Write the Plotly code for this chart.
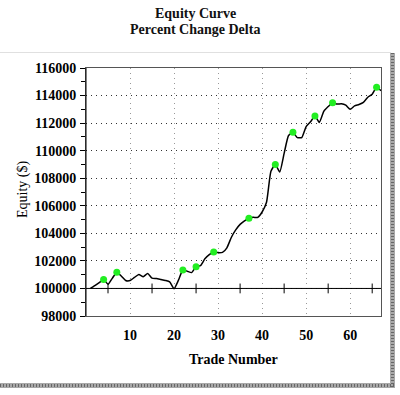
import plotly.graph_objects as go

trades = list(range(1, 68))
equity = [
    100000, 100200, 100420, 100650, 100300, 100750, 101180, 100900, 100580, 100570,
    100800, 101020, 100850, 101090, 100750, 100720, 100650, 100580, 100480, 99980,
    100600, 101340, 101250, 101150, 101580, 101650, 102150, 102450, 102640, 102600,
    102620, 102950, 103700, 104250, 104650, 104900, 105100, 105160, 105160, 105550,
    106250, 108500, 109000, 108450, 109800, 111100, 111330, 110950, 110950, 111750,
    112100, 112520, 112050, 112850, 113200, 113480, 113380, 113400, 113300, 113000,
    113250, 113350, 113500, 113880, 114100, 114600, 114350,
]
peak_trades = [4, 7, 22, 25, 29, 37, 43, 47, 52, 56, 66]
x_ticks = [10, 20, 30, 40, 50, 60]
x_minor_ticks = [5, 15, 25, 35, 45, 55, 65]
y_ticks = list(range(98000, 116001, 2000))
base_equity = 100000

peak_vals = [equity[trades.index(t)] for t in peak_trades]

W, H = 400, 395
L, R, T, B = 86, 19, 68, 79
PW, PH = W - L - R, H - T - B


def px(xp):
    return (xp - L) / PW


def py(yp):
    return (H - B - yp) / PH


serif = "Liberation Serif, Times New Roman, serif"

fig = go.Figure()

# baseline at starting equity
fig.add_trace(go.Scatter(
    x=[0, 67], y=[base_equity, base_equity], mode="lines",
    line=dict(color="black", width=1), hoverinfo="skip", showlegend=False))
fig.add_trace(go.Scatter(
    x=x_minor_ticks, y=[base_equity] * len(x_minor_ticks), mode="markers",
    marker=dict(symbol="line-ns", size=7, line=dict(color="black", width=1)),
    hoverinfo="skip", showlegend=False))

fig.add_trace(go.Scatter(
    x=trades, y=equity, mode="lines",
    line=dict(color="black", width=1.5, shape="spline", smoothing=0.5),
    showlegend=False))
fig.add_trace(go.Scatter(
    x=peak_trades, y=peak_vals, mode="markers",
    marker=dict(color="#22ee22", size=7, line=dict(width=0)),
    showlegend=False))

border_shapes = []
# light top rule of the outer frame
border_shapes.append(dict(type="line", xref="paper", yref="paper", x0=px(0), x1=px(391),
                          y0=py(52.5), y1=py(52.5), line=dict(color="#e0e0e0", width=1)))
# checkered right and bottom border: grey base with dark dotted overlay
for (x0, x1, y0, y1) in [(390, 395, 53, 388), (0, 395, 383, 388)]:
    border_shapes.append(dict(type="rect", xref="paper", yref="paper",
                              x0=px(x0), x1=px(x1), y0=py(y0), y1=py(y1),
                              fillcolor="#a8a8a8", line=dict(width=0), layer="above"))
border_shapes.append(dict(type="line", xref="paper", yref="paper", x0=px(392.5), x1=px(392.5),
                          y0=py(53), y1=py(388), line=dict(color="#666", width=3, dash="1px,2px")))
border_shapes.append(dict(type="line", xref="paper", yref="paper", x0=px(0), x1=px(395),
                          y0=py(385.5), y1=py(385.5), line=dict(color="#666", width=3, dash="1px,2px")))

fig.update_layout(
    width=W, height=H,
    margin=dict(l=L, r=R, t=T, b=B, pad=0, autoexpand=False),
    paper_bgcolor="white", plot_bgcolor="white",
    font=dict(family=serif, color="black", size=14),
    xaxis=dict(
        range=[0, 67], tickvals=x_ticks, ticks="", showline=True, mirror=True,
        linecolor="#555", linewidth=1, automargin=False,
        showgrid=True, gridcolor="#999999", griddash="1px,4px", gridwidth=1,
        zeroline=False,
        tickfont=dict(family=serif, size=14, weight="bold"),
        ticklabelstandoff=6),
    yaxis=dict(
        range=[98000, 116000], tickvals=y_ticks, tickformat="d",
        ticks="outside", ticklen=5, tickcolor="black", automargin=False,
        minor=dict(dtick=1000, ticks="outside", ticklen=4, tickcolor="black", showgrid=False),
        showline=True, mirror=True, linecolor="#555", linewidth=1,
        showgrid=True, gridcolor="#333333", griddash="1px,4px", gridwidth=1,
        zeroline=False,
        tickfont=dict(family=serif, size=14, weight="bold"),
        ticklabelstandoff=1),
    annotations=[
        dict(text="<b>Equity Curve</b>", xref="paper", yref="paper",
             x=px(195), y=py(13), xanchor="center", yanchor="middle",
             showarrow=False, font=dict(family=serif, size=14, color="#111")),
        dict(text="<b>Percent Change Delta</b>", xref="paper", yref="paper",
             x=px(195), y=py(30), xanchor="center", yanchor="middle",
             showarrow=False, font=dict(family=serif, size=14, color="#111")),
        dict(text="<b>Trade Number</b>", xref="paper", yref="paper",
             x=px(233), y=py(359), xanchor="center", yanchor="middle",
             showarrow=False, font=dict(family=serif, size=14)),
        dict(text="Equity ($)", xref="paper", yref="paper",
             x=px(23), y=py(190), xanchor="center", yanchor="middle",
             textangle=-90, showarrow=False, font=dict(family=serif, size=14)),
    ],
    shapes=[
        dict(type="line", xref="paper", yref="paper", x0=0, x1=0, y0=0, y1=1,
             line=dict(color="black", width=1)),
    ] + border_shapes,
)

fig.write_html(
    "out.html",
    config={"displayModeBar": False},
    post_script="document.body.style.margin='0';document.body.style.padding='0';",
)
